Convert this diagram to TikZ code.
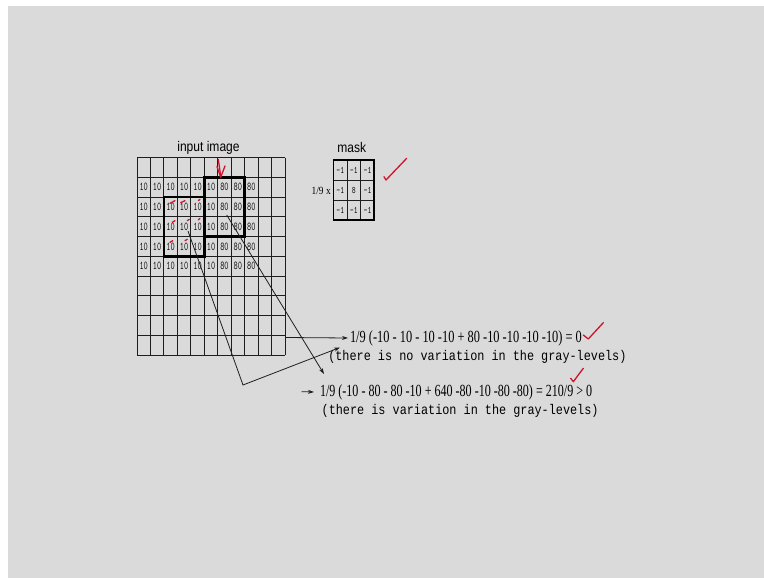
\documentclass[tikz,border=0pt]{standalone}
\usepackage{fontspec}
\setmainfont{Liberation Serif}
\newfontfamily\sansf{Liberation Sans}
\newfontfamily\monof{Liberation Mono}
\usetikzlibrary{arrows.meta}
\definecolor{bg}{RGB}{218,218,218}
\definecolor{ink}{RGB}{30,30,30}
\definecolor{pen}{RGB}{205,20,45}
\newcommand{\cellnum}[1]{\ttfamily\fontsize{12}{12}\selectfont\scalebox{0.68}[1]{#1}}
\newcommand{\masknum}[1]{\ttfamily\fontsize{10}{10}\selectfont\scalebox{0.75}[1]{#1}}
\begin{document}
\begin{tikzpicture}[x=1pt,y=-1pt,
  gridline/.style={draw=ink, line width=1pt},
  thickbox/.style={draw=black, line width=2.6pt, inner sep=0pt},
  conn/.style={draw=ink, line width=0.8pt},
  tipped/.style={-{Stealth[length=6pt,width=4pt]}},
  redpen/.style={draw=pen, line width=1.3pt, line cap=round, line join=round},
  plain/.style={inner sep=0pt, outer sep=0pt, text=black}]
\useasboundingbox (0,0) rectangle (764,578);
\fill[white] (0,0) rectangle (764,578);
\fill[bg] (8,6) rectangle (764,578);
% input image grid
\foreach \i in {0,...,11} \draw[gridline] ({137+\i*13.4545},157.5) -- ({137+\i*13.4545},355);
\foreach \j in {0,...,10} \draw[gridline] (137,{157.5+\j*19.75}) -- (285,{157.5+\j*19.75});
\foreach \r in {1,...,5}
  \foreach \c/\v in {0/10,1/10,2/10,3/10,4/10,5/10,6/80,7/80,8/80}
    \node[plain] (n\r\c) at ({137+(\c+0.5)*13.4545},{157.5+(\r+0.5)*19.75}) {\cellnum{\v}};
\node[thickbox, minimum width=40.36pt, minimum height=59.25pt] (boxA) at (184.1,226.6) {};
\node[thickbox, minimum width=40.36pt, minimum height=59.25pt] (boxB) at (224.45,206.9) {};
\node[plain] (title) at (208.5,148.3) {\sansf\fontsize{14}{14}\selectfont\scalebox{0.86}[1]{input image}};
% mask
\foreach \i in {1,2} \draw[gridline] ({333.5+\i*13.6},160) -- ({333.5+\i*13.6},220);
\foreach \j in {1,2} \draw[gridline] (333.5,{160+\j*20}) -- (374.3,{160+\j*20});
\node[draw=black, line width=1.8pt, inner sep=0pt, minimum width=40.8pt, minimum height=60pt] (maskbox) at (353.9,190) {};
\foreach \r/\a/\b/\cc in {0/-1/-1/-1,1/-1/8/-1,2/-1/-1/-1} {
  \node[plain] (m\r0) at (340.3,{170+\r*20}) {\masknum{\a}};
  \node[plain] (m\r1) at (353.9,{170+\r*20}) {\masknum{\b}};
  \node[plain] (m\r2) at (367.5,{170+\r*20}) {\masknum{\cc}};
}
\node[plain] (masktitle) at (351.7,147.5) {\sansf\fontsize{14}{14}\selectfont\scalebox{0.86}[1]{mask}};
\node[plain] (factor) at (321.2,191) {\fontsize{11}{11}\selectfont\scalebox{0.85}[1]{1/9 x}};
% equations
\node[plain, anchor=west] (eq1) at (350,338) {\fontsize{17}{17}\selectfont\scalebox{0.728}[1]{1/9 (-10 - 10 - 10 -10 + 80 -10 -10 -10 -10) = 0}};
\node[plain, anchor=west] (ex1) at (328.3,356.5) {\monof\fontsize{14}{14}\selectfont\scalebox{0.845}[1]{(there is no variation in the gray-levels)}};
\node[plain, anchor=west] (eq2) at (320,392) {\fontsize{17}{17}\selectfont\scalebox{0.709}[1]{1/9 (-10 - 80 - 80 -10 + 640 -80 -10 -80 -80) = 210/9 > 0}};
\node[plain, anchor=west] (ex2) at (321.7,411) {\monof\fontsize{14}{14}\selectfont\scalebox{0.845}[1]{(there is variation in the gray-levels)}};
% connectors
\coordinate (b0) at (226.7,215);
\coordinate (b1) at (324,374);
\coordinate (a0) at (188,231);
\coordinate (a1) at (243,385);
\coordinate (a2) at (340,347.5);
\coordinate (g0) at (285,337.5);
\coordinate (s0) at (301.5,391.7);
\draw[conn,tipped] (b0) -- (b1);
\draw[conn,tipped] (a0) -- (a1) -- (a2);
\draw[conn,tipped] (g0) -- ([xshift=-2pt]eq1.west);
\draw[conn,tipped] (s0) -- ([xshift=-6pt]eq2.west);
% red pen marks
\draw[redpen] (218.3,159.3) -- (220.7,176);
\draw[redpen] (217,166.5) -- (220.7,177.3) -- (225,166);
\draw[redpen] (170,203.3) -- (175,200.7);
\draw[redpen] (180.7,202.7) -- (185,200.7);
\draw[redpen] (198.3,200.7) -- (200,199.3);
\draw[redpen] (172.3,222.3) -- (175,220.7);
\draw[redpen] (187.3,220.7) -- (189.3,219.3);
\draw[redpen] (198.3,220) -- (200,218.3);
\draw[redpen] (170,242.3) -- (172.7,240.7);
\draw[redpen] (185,240.7) -- (187.3,239.3);
\draw[redpen] (384,176.7) -- (386,180) -- (406.7,158.3);
\draw[redpen] (583.3,335) -- (588.3,339) -- (603.3,322.7);
\draw[redpen] (570.7,378.3) -- (573.3,381.7) -- (583.3,368.3);
\end{tikzpicture}
\end{document}
